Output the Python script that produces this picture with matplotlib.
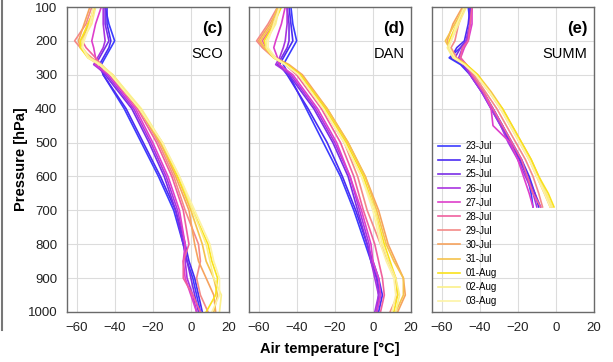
import matplotlib
matplotlib.use("Agg")
import numpy as np
import matplotlib.pyplot as plt
from matplotlib.lines import Line2D

plt.rcParams['font.family'] = ['Liberation Sans', 'DejaVu Sans']

############################
#  DATA
############################

days = ['23-Jul', '24-Jul', '25-Jul', '26-Jul', '27-Jul', '28-Jul',
        '29-Jul', '30-Jul', '31-Jul', '01-Aug', '02-Aug', '03-Aug']

day_colors = ['#3c3cff', '#4b2cf2', '#7a2ee6', '#a935e0', '#de3fcb', '#f0609e',
              '#f48a88', '#f6a35e', '#f5c24c', '#f9e21c', '#fbf08a', '#fdf3a6']

# pressure levels [hPa]
p_coast = [1000, 950, 900, 850, 800, 700, 600, 500, 400, 300, 270, 250, 220, 200, 150, 100]
p_summ = [690, 650, 600, 550, 500, 450, 400, 350, 300, 270, 250, 220, 200, 150, 100]

# air temperature [C], one row per day
t_sco = [
    [5, 3, 1, -2, -4, -9, -17, -26, -35, -46, -47, -45, -42, -40, -43, -45],
    [6, 4, 2, -1, -3, -8, -16, -25, -34, -46, -48, -46, -43, -42, -44, -44],
    [4, 2, 0, -2, -4, -8, -14, -22, -31, -45, -50, -48, -45, -43, -45, -45],
    [3, 1, -2, -3, -3, -7, -13, -21, -30, -44, -51, -49, -46, -45, -46, -46],
    [3, 0, -3, -4, -3, -6, -12, -20, -29, -43, -50, -50, -51, -52, -50, -47],
    [5, 1, -4, -4, -1, -4, -10, -18, -28, -42, -47, -50, -55, -57, -54, -50],
    [9, 5, 3, 5, 4, -3, -9, -17, -27, -42, -47, -52, -58, -61, -55, -52],
    [13, 12, 8, 4, 2, -1, -8, -16, -27, -42, -48, -53, -58, -59, -56, -53],
    [12, 14, 12, 8, 6, 0, -7, -16, -27, -41, -48, -53, -57, -58, -53, -51],
    [8, 13, 14, 11, 9, 1, -7, -15, -27, -42, -48, -54, -58, -58, -54, -50],
    [15, 16, 12, 10, 8, 1, -6, -15, -26, -41, -47, -53, -57, -57, -52, -50],
    [11, 15, 15, 12, 10, 2, -6, -15, -27, -42, -48, -54, -57, -56, -53, -51],
]

t_dan = [
    [2, 4, 2, -1, -4, -10, -17, -26, -35, -44, -47, -45, -42, -40, -42, -43],
    [3, 5, 3, 0, -3, -9, -16, -24, -34, -45, -49, -47, -44, -42, -43, -44],
    [2, 3, 2, -1, -3, -8, -13, -21, -31, -44, -50, -48, -45, -44, -44, -45],
    [1, 3, 1, -1, -2, -7, -12, -20, -30, -43, -51, -49, -47, -46, -45, -45],
    [2, 4, 3, 0, -1, -6, -12, -19, -29, -42, -49, -50, -52, -51, -48, -46],
    [4, 6, 5, 3, 1, -5, -10, -17, -27, -40, -46, -51, -56, -58, -52, -49],
    [9, 13, 12, 8, 4, -3, -8, -15, -26, -39, -45, -52, -58, -61, -55, -50],
    [13, 17, 16, 12, 8, 3, -4, -13, -24, -37, -44, -51, -57, -60, -54, -49],
    [12, 16, 16, 11, 7, 2, -4, -13, -24, -38, -45, -52, -57, -59, -53, -50],
    [11, 13, 12, 9, 6, 1, -5, -14, -25, -38, -45, -52, -56, -57, -52, -48],
    [12, 14, 12, 8, 5, 1, -6, -15, -26, -39, -46, -52, -56, -56, -51, -49],
    [10, 12, 11, 7, 4, 0, -6, -15, -26, -39, -46, -51, -55, -55, -52, -49],
]

t_summ = [
    [-12, -13, -15, -19, -24, -29, -34, -39, -45, -50, -56, -50, -47, -45, -46],
    [-9, -11, -14, -18, -23, -28, -33, -38, -44, -49, -55, -52, -48, -46, -45],
    [-8, -11, -15, -19, -24, -28, -33, -39, -45, -49, -53, -50, -47, -45, -45],
    [-10, -12, -16, -20, -25, -29, -34, -39, -45, -48, -51, -49, -47, -45, -44],
    [-12, -14, -17, -20, -24, -33, -34, -38, -44, -47, -50, -48, -46, -44, -44],
    [-8, -12, -15, -18, -23, -28, -33, -38, -44, -47, -50, -49, -46, -45, -44],
    [-7, -9, -12, -16, -21, -26, -31, -37, -43, -47, -52, -55, -53, -51, -48],
    [-3, -6, -10, -14, -19, -24, -29, -35, -42, -47, -53, -56, -57, -54, -49],
    [-2, -5, -9, -13, -18, -23, -28, -34, -41, -47, -53, -56, -58, -53, -48],
    [-1, -4, -9, -13, -18, -23, -28, -35, -41, -47, -53, -56, -56, -52, -48],
    [-2, -5, -10, -14, -19, -24, -29, -35, -42, -48, -54, -57, -55, -51, -47],
    [-3, -6, -10, -14, -19, -24, -29, -35, -42, -48, -53, -56, -55, -52, -48],
]

panels = [('(c)', 'SCO', p_coast, t_sco),
          ('(d)', 'DAN', p_coast, t_dan),
          ('(e)', 'SUMM', p_summ, t_summ)]

############################
# PLOT
############################

fig = plt.figure(figsize=(6.13, 3.62), dpi=100)
lefts = [67, 249, 432]
axes = []
for i, (lab, site, plev, temps) in enumerate(panels):
    ax = fig.add_axes([lefts[i] / 613, 1 - 312 / 362, 162 / 613, 305 / 362])
    axes.append(ax)
    for k in range(len(days)):
        ax.plot(temps[k], plev, color=day_colors[k], lw=1.2, label=days[k])
    ax.set_xlim(-65, 20)
    ax.set_ylim(1000, 100)
    ax.set_xticks([-60, -40, -20, 0, 20])
    ax.set_yticks(np.arange(100, 1001, 100))
    ax.grid(True, color='#dcdcdc', lw=0.8)
    ax.set_axisbelow(True)
    ax.tick_params(length=0, labelsize=9.5, pad=7, colors='#222222')
    for s in ax.spines.values():
        s.set_color('#6a6a6a')
        s.set_linewidth(1.0)
    if i > 0:
        ax.tick_params(labelleft=False)
    ax.text(0.96, 0.955, lab, transform=ax.transAxes, ha='right', va='top',
            fontsize=12, fontweight='bold')
    ax.text(0.96, 0.87, site, transform=ax.transAxes, ha='right', va='top',
            fontsize=10.5)

axes[0].set_ylabel('Pressure [hPa]', fontsize=10.5, fontweight='bold', labelpad=0)
axes[1].set_xlabel('Air temperature [°C]', fontsize=10.5, fontweight='bold', labelpad=6)

axes[2].legend(loc='lower left', frameon=False, fontsize=7, handlelength=2.3,
               labelspacing=0.42, handletextpad=0.6, borderaxespad=0.2,
               bbox_to_anchor=(0.0, 0.0))

# border line of the page at the left
fig.add_artist(Line2D([2 / 613, 2 / 613], [1 - 330 / 362, 1.0], color='#777777', lw=1.5))

fig.savefig('out.png', dpi=100)
